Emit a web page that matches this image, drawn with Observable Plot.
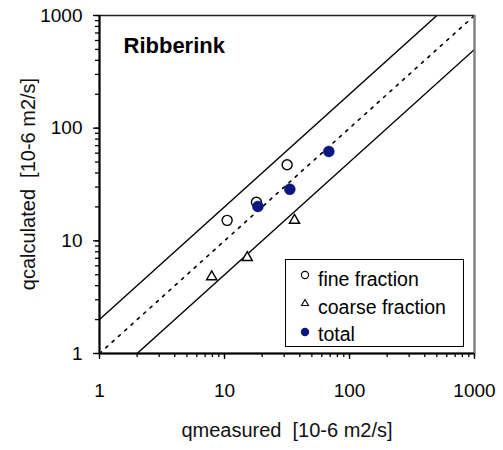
<!DOCTYPE html>
<html>
<head>
<meta charset="utf-8">
<script src="https://cdn.jsdelivr.net/npm/d3@7"></script>
<script src="https://cdn.jsdelivr.net/npm/@observablehq/plot@0.6"></script>
<style>
  body { margin: 0; background: #fff; font-family: "Liberation Sans", Arial, sans-serif; }
  #chart { position: relative; width: 503px; height: 450px; }
  #chart svg text { white-space: pre; }
  .ylabel { position: absolute; left: 28px; top: 184px; font-size: 20px; color: #111;
            white-space: pre; transform: translate(-50%, -50%) rotate(-90deg); line-height: 1; }
  .legend { position: absolute; left: 285px; top: 259px; width: 177px; height: 86px;
            border: 1px solid #000; background: #fff; font-size: 19.5px; color: #000; }
  .legend .row { position: absolute; left: 0; height: 24px; white-space: nowrap; }
  .legend svg { position: absolute; left: 13px; top: 0; }
  .legend span { position: absolute; left: 32px; top: 0; line-height: 24px; }
</style>
</head>
<body>
<div id="chart"></div>
<script>
// Sediment transport: measured vs calculated (10^-6 m2/s), Ribberink data set
const fineMeasured     = [10.5, 18.0, 31.7];
const fineCalculated   = [15.2, 22.0, 47.3];
const coarseMeasured   = [7.9, 15.2, 36.3];
const coarseCalculated = [4.8, 7.1, 15.2];
const totalMeasured    = [18.5, 33.3, 68.3];
const totalCalculated  = [20.2, 28.7, 62.1];

// Perfect agreement and factor-of-two bands
const agreementFactors = [0.5, 1, 2];
const axisDomain = [1, 1000];
const majorTicks = [1, 10, 100, 1000];

const seriesNames = ["fine fraction", "coarse fraction", "total"];
const titleText = "Ribberink";
const xLabel = "qmeasured  [10-6 m2/s]";
const yLabel = "qcalculated  [10-6 m2/s]";

const pairs = (xs, ys) => xs.map((x, i) => ({x, y: ys[i]}));
const fine = pairs(fineMeasured, fineCalculated);
const coarse = pairs(coarseMeasured, coarseCalculated);
const total = pairs(totalMeasured, totalCalculated);

const bandLines = agreementFactors.flatMap(f =>
  axisDomain.map(v => ({factor: f, x: v, y: v * f})));

const minorTicks = d3.scaleLog().domain(axisDomain).ticks();
const navy = "#0b1780";

const plot = Plot.plot({
  width: 503,
  height: 450,
  marginLeft: 99,
  marginRight: 29,
  marginTop: 15,
  marginBottom: 97,
  style: {fontFamily: "'Liberation Sans', Arial, sans-serif", fontSize: "19px", color: "#000", background: "#fff"},
  x: {type: "log", domain: axisDomain},
  y: {type: "log", domain: axisDomain},
  marks: [
    Plot.axisX({ticks: minorTicks, tickSize: 4, strokeWidth: 1.3, tickFormat: () => "", label: null}),
    Plot.axisX({ticks: majorTicks, tickSize: 6, strokeWidth: 1.3, tickPadding: 24, tickFormat: d3.format("d"), label: null}),
    Plot.axisY({ticks: minorTicks, tickSize: 4, strokeWidth: 1.3, tickFormat: () => "", label: null}),
    Plot.axisY({ticks: majorTicks, tickSize: 6, strokeWidth: 1.3, tickPadding: 11, tickFormat: d3.format("d"), label: null}),
    Plot.line(bandLines.filter(d => d.factor !== 1), {x: "x", y: "y", z: "factor", stroke: "#000", strokeWidth: 1.4, clip: true}),
    Plot.line(bandLines.filter(d => d.factor === 1), {x: "x", y: "y", stroke: "#000", strokeWidth: 1.6, strokeDasharray: "2.5,6", clip: true}),
    Plot.frame({stroke: "#222", strokeWidth: 1.5}),
    Plot.ruleX([axisDomain[1]], {stroke: "#808080", strokeWidth: 2}),
    Plot.ruleX([axisDomain[0]], {stroke: "#000", strokeWidth: 2}),
    Plot.ruleY([axisDomain[0]], {stroke: "#000", strokeWidth: 2}),
    Plot.dot(fine, {x: "x", y: "y", r: 5, stroke: "#000", fill: "#fff", strokeWidth: 1.4}),
    Plot.dot(coarse, {x: "x", y: "y", symbol: "triangle", r: 3.8, stroke: "#000", fill: "#fff", strokeWidth: 1.4}),
    Plot.dot(total, {x: "x", y: "y", r: 5.5, fill: navy, stroke: navy, strokeWidth: 0.5}),
    Plot.text([titleText], {frameAnchor: "top-left", dx: 24, dy: 22, lineAnchor: "top", textAnchor: "start", fontWeight: "bold", fontSize: 22}),
    Plot.text([xLabel], {frameAnchor: "bottom", dy: 83, fontSize: 20, fill: "#111"})
  ]
});

const chart = document.getElementById("chart");
chart.appendChild(plot);

// Vertical axis title
const yTitle = document.createElement("div");
yTitle.className = "ylabel";
yTitle.textContent = yLabel;
chart.appendChild(yTitle);

// In-plot legend box
const legend = document.createElement("div");
legend.className = "legend";
const markers = [
  `<circle cx="6" cy="8" r="3.6" fill="#fff" stroke="#000" stroke-width="1.1"/>`,
  `<path d="M6,4.5 L9.5,10.5 L2.5,10.5 Z" fill="#fff" stroke="#000" stroke-width="1.1"/>`,
  `<circle cx="6" cy="10" r="4.2" fill="${navy}"/>`
];
seriesNames.forEach((name, i) => {
  const row = document.createElement("div");
  row.className = "row";
  row.style.top = (7 + i * 27.5) + "px";
  row.innerHTML = `<svg width="12" height="24" viewBox="0 0 12 24">${markers[i]}</svg><span>${name}</span>`;
  legend.appendChild(row);
});
chart.appendChild(legend);
</script>
</body>
</html>
